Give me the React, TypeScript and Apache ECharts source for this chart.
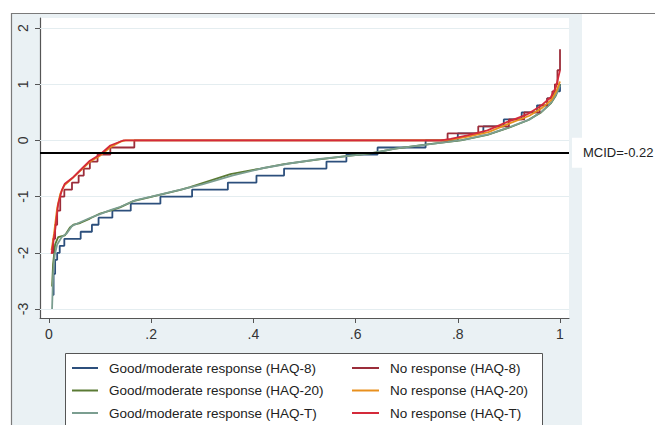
import React, { useEffect, useRef } from "react";
import * as echarts from "echarts";

// Quantile curves: [fraction, change in score]
const goodHaq8: number[][] = [
  [0.006, -2.75], [0.009, -2.375], [0.012, -2.125], [0.016, -2.0], [0.021, -1.875], [0.03, -1.75],
  [0.062, -1.625], [0.084, -1.5], [0.097, -1.375], [0.124, -1.25], [0.16, -1.125], [0.218, -1.0],
  [0.28, -0.875], [0.35, -0.75], [0.406, -0.625], [0.46, -0.5], [0.543, -0.375], [0.582, -0.25],
  [0.643, -0.125], [0.737, 0], [0.8, 0.125], [0.85, 0.25], [0.89, 0.375], [0.925, 0.5],
  [0.955, 0.625], [0.975, 0.75], [0.988, 0.875], [1.0, 1.0],
];
const goodHaq20: number[][] = [
  [0.006, -2.6], [0.008, -2.2], [0.012, -1.85], [0.018, -1.72], [0.031, -1.69], [0.041, -1.55],
  [0.048, -1.5], [0.061, -1.47], [0.08, -1.39], [0.1, -1.3], [0.12, -1.25], [0.139, -1.19],
  [0.165, -1.08], [0.198, -1.01], [0.257, -0.88], [0.276, -0.83], [0.355, -0.6], [0.414, -0.5],
  [0.46, -0.42], [0.525, -0.34], [0.59, -0.27], [0.63, -0.23], [0.675, -0.15], [0.74, -0.07],
  [0.806, 0], [0.858, 0.1], [0.904, 0.24], [0.937, 0.36], [0.963, 0.5], [0.982, 0.66],
  [0.992, 0.8], [1.0, 1.0],
];
const goodHaqT: number[][] = [
  [0.006, -3.0], [0.008, -2.4], [0.011, -2.05], [0.016, -1.85], [0.025, -1.72], [0.035, -1.65],
  [0.045, -1.52], [0.06, -1.46], [0.08, -1.38], [0.1, -1.31], [0.12, -1.24], [0.14, -1.18],
  [0.17, -1.06], [0.2, -1.0], [0.26, -0.87], [0.3, -0.78], [0.36, -0.62], [0.42, -0.49],
  [0.47, -0.41], [0.53, -0.33], [0.6, -0.26], [0.64, -0.21], [0.68, -0.14], [0.75, -0.06],
  [0.81, 0.01], [0.86, 0.11], [0.905, 0.25], [0.94, 0.37], [0.965, 0.52], [0.983, 0.68],
  [0.993, 0.83], [1.0, 0.98],
];
const noHaq8: number[][] = [
  [0.005, -2.0], [0.008, -1.75], [0.012, -1.5], [0.016, -1.25], [0.022, -1.0], [0.03, -0.875],
  [0.045, -0.75], [0.058, -0.625], [0.068, -0.5], [0.08, -0.375], [0.095, -0.25], [0.12, -0.125],
  [0.167, 0], [0.78, 0.125], [0.84, 0.25], [0.9, 0.375], [0.93, 0.5], [0.96, 0.625],
  [0.975, 0.75], [0.985, 0.875], [0.99, 1.0], [0.995, 1.25], [1.0, 1.625],
];
const noHaq20: number[][] = [
  [0.005, -1.95], [0.01, -1.65], [0.016, -1.2], [0.022, -0.95], [0.03, -0.8], [0.045, -0.68],
  [0.06, -0.55], [0.08, -0.38], [0.1, -0.27], [0.12, -0.12], [0.14, -0.02], [0.15, 0],
  [0.77, 0], [0.79, 0.02], [0.82, 0.07], [0.86, 0.15], [0.9, 0.3], [0.94, 0.44],
  [0.965, 0.58], [0.983, 0.72], [0.993, 0.88], [1.0, 1.05],
];
const noHaqT: number[][] = [
  [0.005, -2.02], [0.012, -1.6], [0.018, -1.13], [0.025, -0.89], [0.031, -0.77], [0.048, -0.65],
  [0.061, -0.53], [0.08, -0.36], [0.1, -0.25], [0.12, -0.09], [0.145, 0], [0.767, 0],
  [0.786, 0.03], [0.819, 0.09], [0.858, 0.18], [0.897, 0.33], [0.937, 0.47], [0.963, 0.62],
  [0.982, 0.77], [0.992, 0.95], [1.0, 1.25],
];

const xTicks = [0, 0.2, 0.4, 0.6, 0.8, 1];
const yTicks = [-3, -2, -1, 0, 1, 2];
const mcid = -0.22;

const seriesNames = [
  "Good/moderate response (HAQ-8)",
  "Good/moderate response (HAQ-20)",
  "Good/moderate response (HAQ-T)",
  "No response (HAQ-8)",
  "No response (HAQ-20)",
  "No response (HAQ-T)",
];
const seriesColors = ["#2c4f7c", "#5a7a34", "#7b9e90", "#9b2d3a", "#e8901e", "#d42a3a"];
const seriesData = [goodHaq8, goodHaq20, goodHaqT, noHaq8, noHaq20, noHaqT];
const seriesStep: (string | false)[] = ["end", false, false, "end", false, false];

const FONT = "Liberation Sans, Arial, sans-serif";

export default function App() {
  const ref = useRef<HTMLDivElement>(null);
  useEffect(() => {
    if (!ref.current) return;
    const chart = echarts.init(ref.current, undefined, { renderer: "svg" });
    const series: any[] = [
      {
        type: "line",
        name: "grid",
        data: [],
        silent: true,
        z: 1,
        markLine: {
          silent: true,
          z: 1,
          symbol: "none",
          label: { show: false },
          lineStyle: { color: "#e4edf0", width: 1, type: "solid" },
          data: yTicks.map((v) => ({ yAxis: v })),
        },
      },
      ...seriesData.map((d, i) => ({
        type: "line",
        name: seriesNames[i],
        data: d,
        step: seriesStep[i],
        z: 3,
        showSymbol: false,
        symbol: "none",
        lineStyle: { color: seriesColors[i], width: 1.8 },
        itemStyle: { color: seriesColors[i] },
      })),
      {
        type: "line",
        name: "mcid",
        data: [],
        z: 5,
        markLine: {
          silent: true,
          z: 6,
          symbol: "none",
          lineStyle: { color: "#000", width: 2, type: "solid" },
          label: {
            show: true,
            position: "end",
            distance: 3,
            formatter: "MCID=" + mcid.toFixed(2),
            color: "#222",
            fontSize: 13,
            fontFamily: FONT,
            backgroundColor: "#fff",
            padding: [9, 20, 8, 11],
          },
          data: [{ yAxis: mcid }],
        },
      },
    ];
    const legendCommon = {
      orient: "vertical",
      top: 361,
      padding: 0,
      itemWidth: 26,
      itemHeight: 2,
      itemGap: 8.5,
      icon: "rect",
      selectedMode: false,
      textStyle: { fontSize: 13.5, fontFamily: FONT, color: "#222", padding: [0, 0, 0, 6] },
    };
    chart.setOption({
      animation: false,
      grid: {
        left: 40,
        top: 18,
        width: 529,
        height: 300,
        show: true,
        backgroundColor: "#ffffff",
        borderWidth: 0,
      },
      xAxis: {
        type: "value",
        min: -0.0176,
        max: 1.0176,
        axisLine: { show: true, onZero: false, lineStyle: { color: "#555", width: 1.2 } },
        axisTick: { show: true, length: 5, lineStyle: { color: "#555" }, customValues: xTicks },
        axisLabel: {
          customValues: xTicks,
          fontSize: 14,
          fontFamily: FONT,
          color: "#333",
          margin: 9,
          formatter: (v: number) => (v === 0 ? "0" : v === 1 ? "1" : "." + Math.round(v * 10)),
        },
        splitLine: { show: false },
      },
      yAxis: {
        type: "value",
        min: -3.16,
        max: 2.18,
        axisLine: { show: true, onZero: false, lineStyle: { color: "#555", width: 1.2 } },
        axisTick: { show: true, length: 5, lineStyle: { color: "#555" }, customValues: yTicks },
        axisLabel: {
          customValues: yTicks,
          rotate: 90,
          fontSize: 14,
          fontFamily: FONT,
          color: "#333",
          margin: 10,
          formatter: (v: number) => String(v),
        },
        splitLine: { show: false },
      },
      legend: [
        { ...legendCommon, left: 72, data: seriesNames.slice(0, 3) },
        { ...legendCommon, left: 352, itemWidth: 27, data: seriesNames.slice(3) },
      ],
      graphic: [
        {
          type: "rect",
          z: -100,
          silent: true,
          shape: { x: 11, y: 13, width: 571, height: 412 },
          style: { fill: "#eaf1f4" },
        },
        {
          type: "line",
          z: -99,
          silent: true,
          shape: { x1: 11, y1: 13.5, x2: 655, y2: 13.5 },
          style: { stroke: "#7a7a7a", lineWidth: 1.2 },
        },
        {
          type: "line",
          z: -99,
          silent: true,
          shape: { x1: 11.5, y1: 13, x2: 11.5, y2: 425 },
          style: { stroke: "#7a7a7a", lineWidth: 1.2 },
        },
        {
          type: "rect",
          z: 1,
          silent: true,
          shape: { x: 65.5, y: 353.5, width: 477, height: 80 },
          style: { fill: "#fff", stroke: "#555", lineWidth: 1 },
        },
      ],
      series,
    });
    return () => chart.dispose();
  }, []);
  return (
    <div
      ref={ref}
      style={{ position: "absolute", left: 0, top: 0, width: 655, height: 425, background: "#fff" }}
    />
  );
}
